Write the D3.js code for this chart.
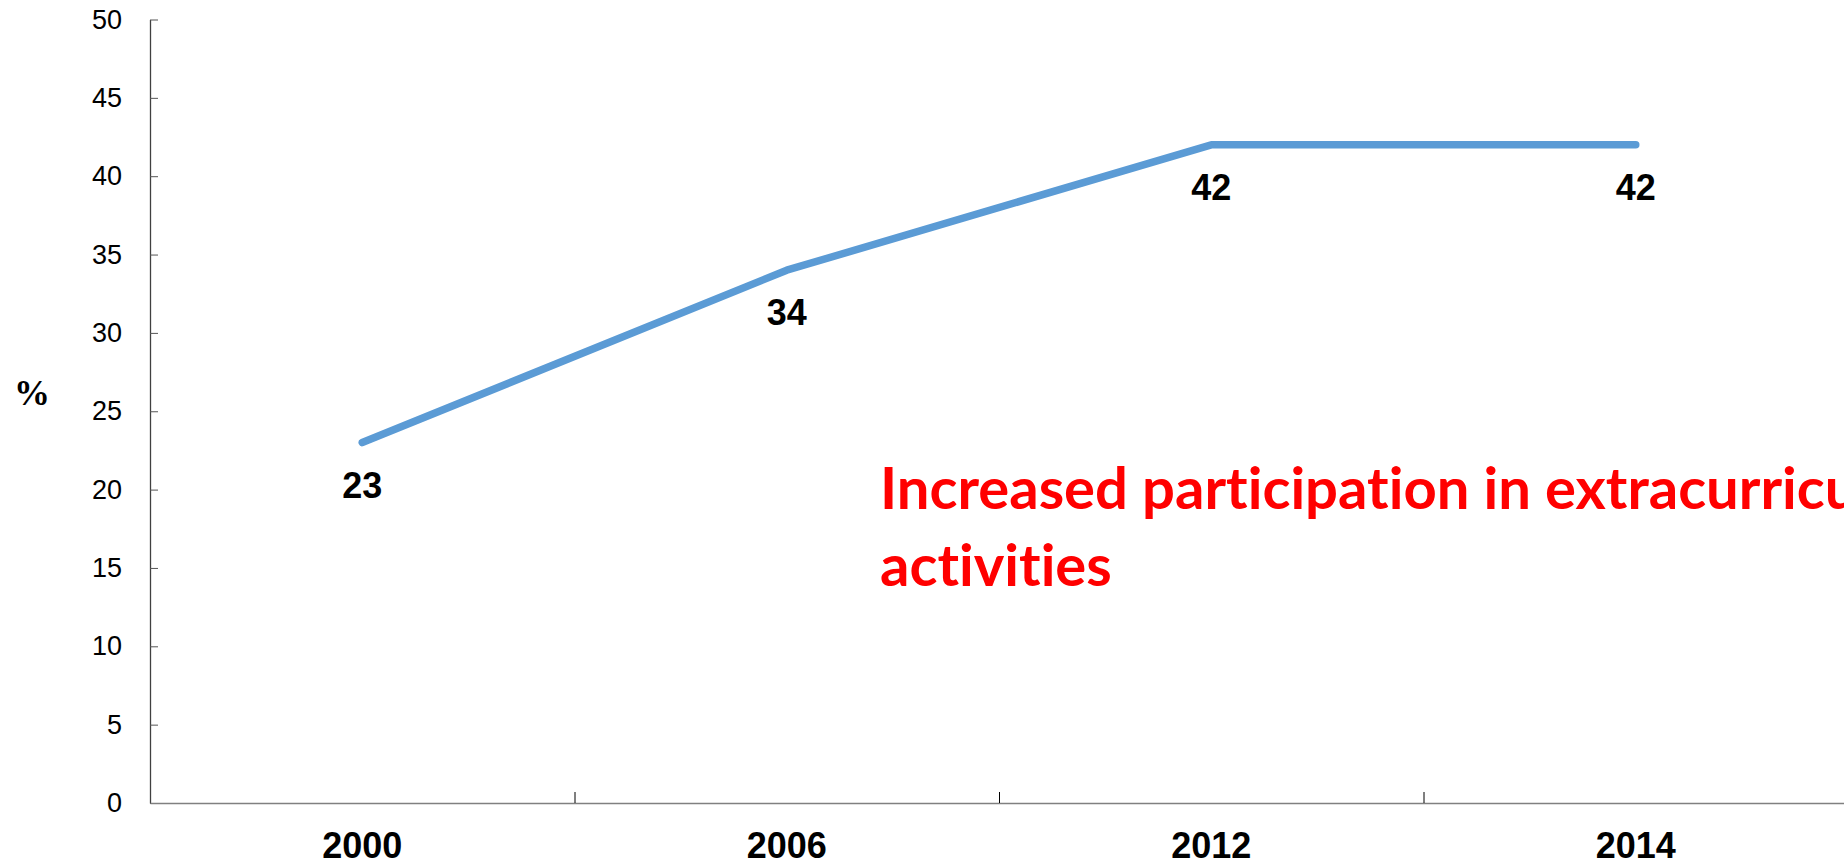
<!DOCTYPE html>
<html>
<head>
<meta charset="utf-8">
<script src="https://cdn.jsdelivr.net/npm/d3@7/dist/d3.min.js"></script>
<style>
  body { margin: 0; background: #fff; }
  svg { display: block; }
</style>
</head>
<body>
<script>
const years = ["2000", "2006", "2012", "2014"];
const shares = [23, 34, 42, 42];
const yTicks = [0, 5, 10, 15, 20, 25, 30, 35, 40, 45, 50];
const note = ["Increased participation in extracurricular", "activities"];

const W = 1844, H = 866;
const plotLeft = 150, plotRight = 1848, plotTop = 19.5, plotBottom = 803;

const svg = d3.select("body").append("svg")
    .attr("width", W)
    .attr("height", H);

const x = d3.scaleBand()
    .domain(years)
    .range([plotLeft, plotRight]);

const xEdges = d3.scaleLinear()
    .domain([0, years.length])
    .range([plotLeft, plotRight]);

const y = d3.scaleLinear()
    .domain([0, 50])
    .range([plotBottom, plotTop]);

// y axis
const yAxis = svg.append("g")
    .attr("transform", `translate(${plotLeft},0)`)
    .call(d3.axisLeft(y).tickValues(yTicks).tickSizeInner(-8).tickSizeOuter(0).tickPadding(28));
yAxis.select(".domain").attr("stroke", "#404040").attr("stroke-width", 1.3);
yAxis.selectAll(".tick line").attr("stroke", "#555");
yAxis.selectAll("text")
    .attr("fill", "#000")
    .style("font-family", "'Liberation Sans', Arial, sans-serif")
    .style("font-size", "27px");

// x axis: tick marks at band edges
const xTickAxis = svg.append("g")
    .attr("transform", `translate(0,${plotBottom})`)
    .call(d3.axisBottom(xEdges).tickValues(d3.range(1, years.length)).tickSizeInner(-11).tickSizeOuter(0).tickFormat(""));
xTickAxis.select(".domain").attr("stroke", "#808080").attr("stroke-width", 1.5);
xTickAxis.selectAll(".tick line").attr("stroke", "#000");

// x axis labels
const xLab = svg.append("g")
    .attr("transform", `translate(0,${plotBottom})`)
    .call(d3.axisBottom(x).tickSize(0).tickPadding(29));
xLab.select(".domain").remove();
xLab.selectAll("text")
    .attr("fill", "#000")
    .style("font-family", "'Liberation Sans', Arial, sans-serif")
    .style("font-size", "36px")
    .style("font-weight", "bold");

// series line
const pts = years.map((yr, i) => ({ yr, v: shares[i] }));
const line = d3.line()
    .x(d => x(d.yr) + x.bandwidth() / 2)
    .y(d => y(d.v));

svg.append("path")
    .datum(pts)
    .attr("fill", "none")
    .attr("stroke", "#5B9BD5")
    .attr("stroke-width", 7.5)
    .attr("stroke-linecap", "round")
    .attr("stroke-linejoin", "round")
    .attr("d", line);

// data labels
svg.append("g")
    .selectAll("text")
    .data(pts)
    .enter()
    .append("text")
    .attr("x", d => x(d.yr) + x.bandwidth() / 2)
    .attr("y", d => y(d.v) + 55)
    .attr("text-anchor", "middle")
    .style("font-family", "'Liberation Sans', Arial, sans-serif")
    .style("font-size", "36px")
    .style("font-weight", "bold")
    .text(d => d.v);

// axis title
svg.append("text")
    .attr("x", 32)
    .attr("y", 405)
    .attr("text-anchor", "middle")
    .style("font-family", "'Liberation Serif', 'Times New Roman', serif")
    .style("font-size", "36px")
    .style("font-weight", "bold")
    .text("%");

// annotation
svg.append("g")
    .selectAll("text")
    .data(note)
    .enter()
    .append("text")
    .attr("x", 880)
    .attr("y", (d, i) => 509 + i * 77)
    .attr("fill", "#FF0000")
    .style("font-family", "Lato, 'Open Sans', sans-serif")
    .style("font-size", "58px")
    .style("font-weight", "bold")
    .style("font-variant-ligatures", "none")
    .text(d => d);
</script>
</body>
</html>
